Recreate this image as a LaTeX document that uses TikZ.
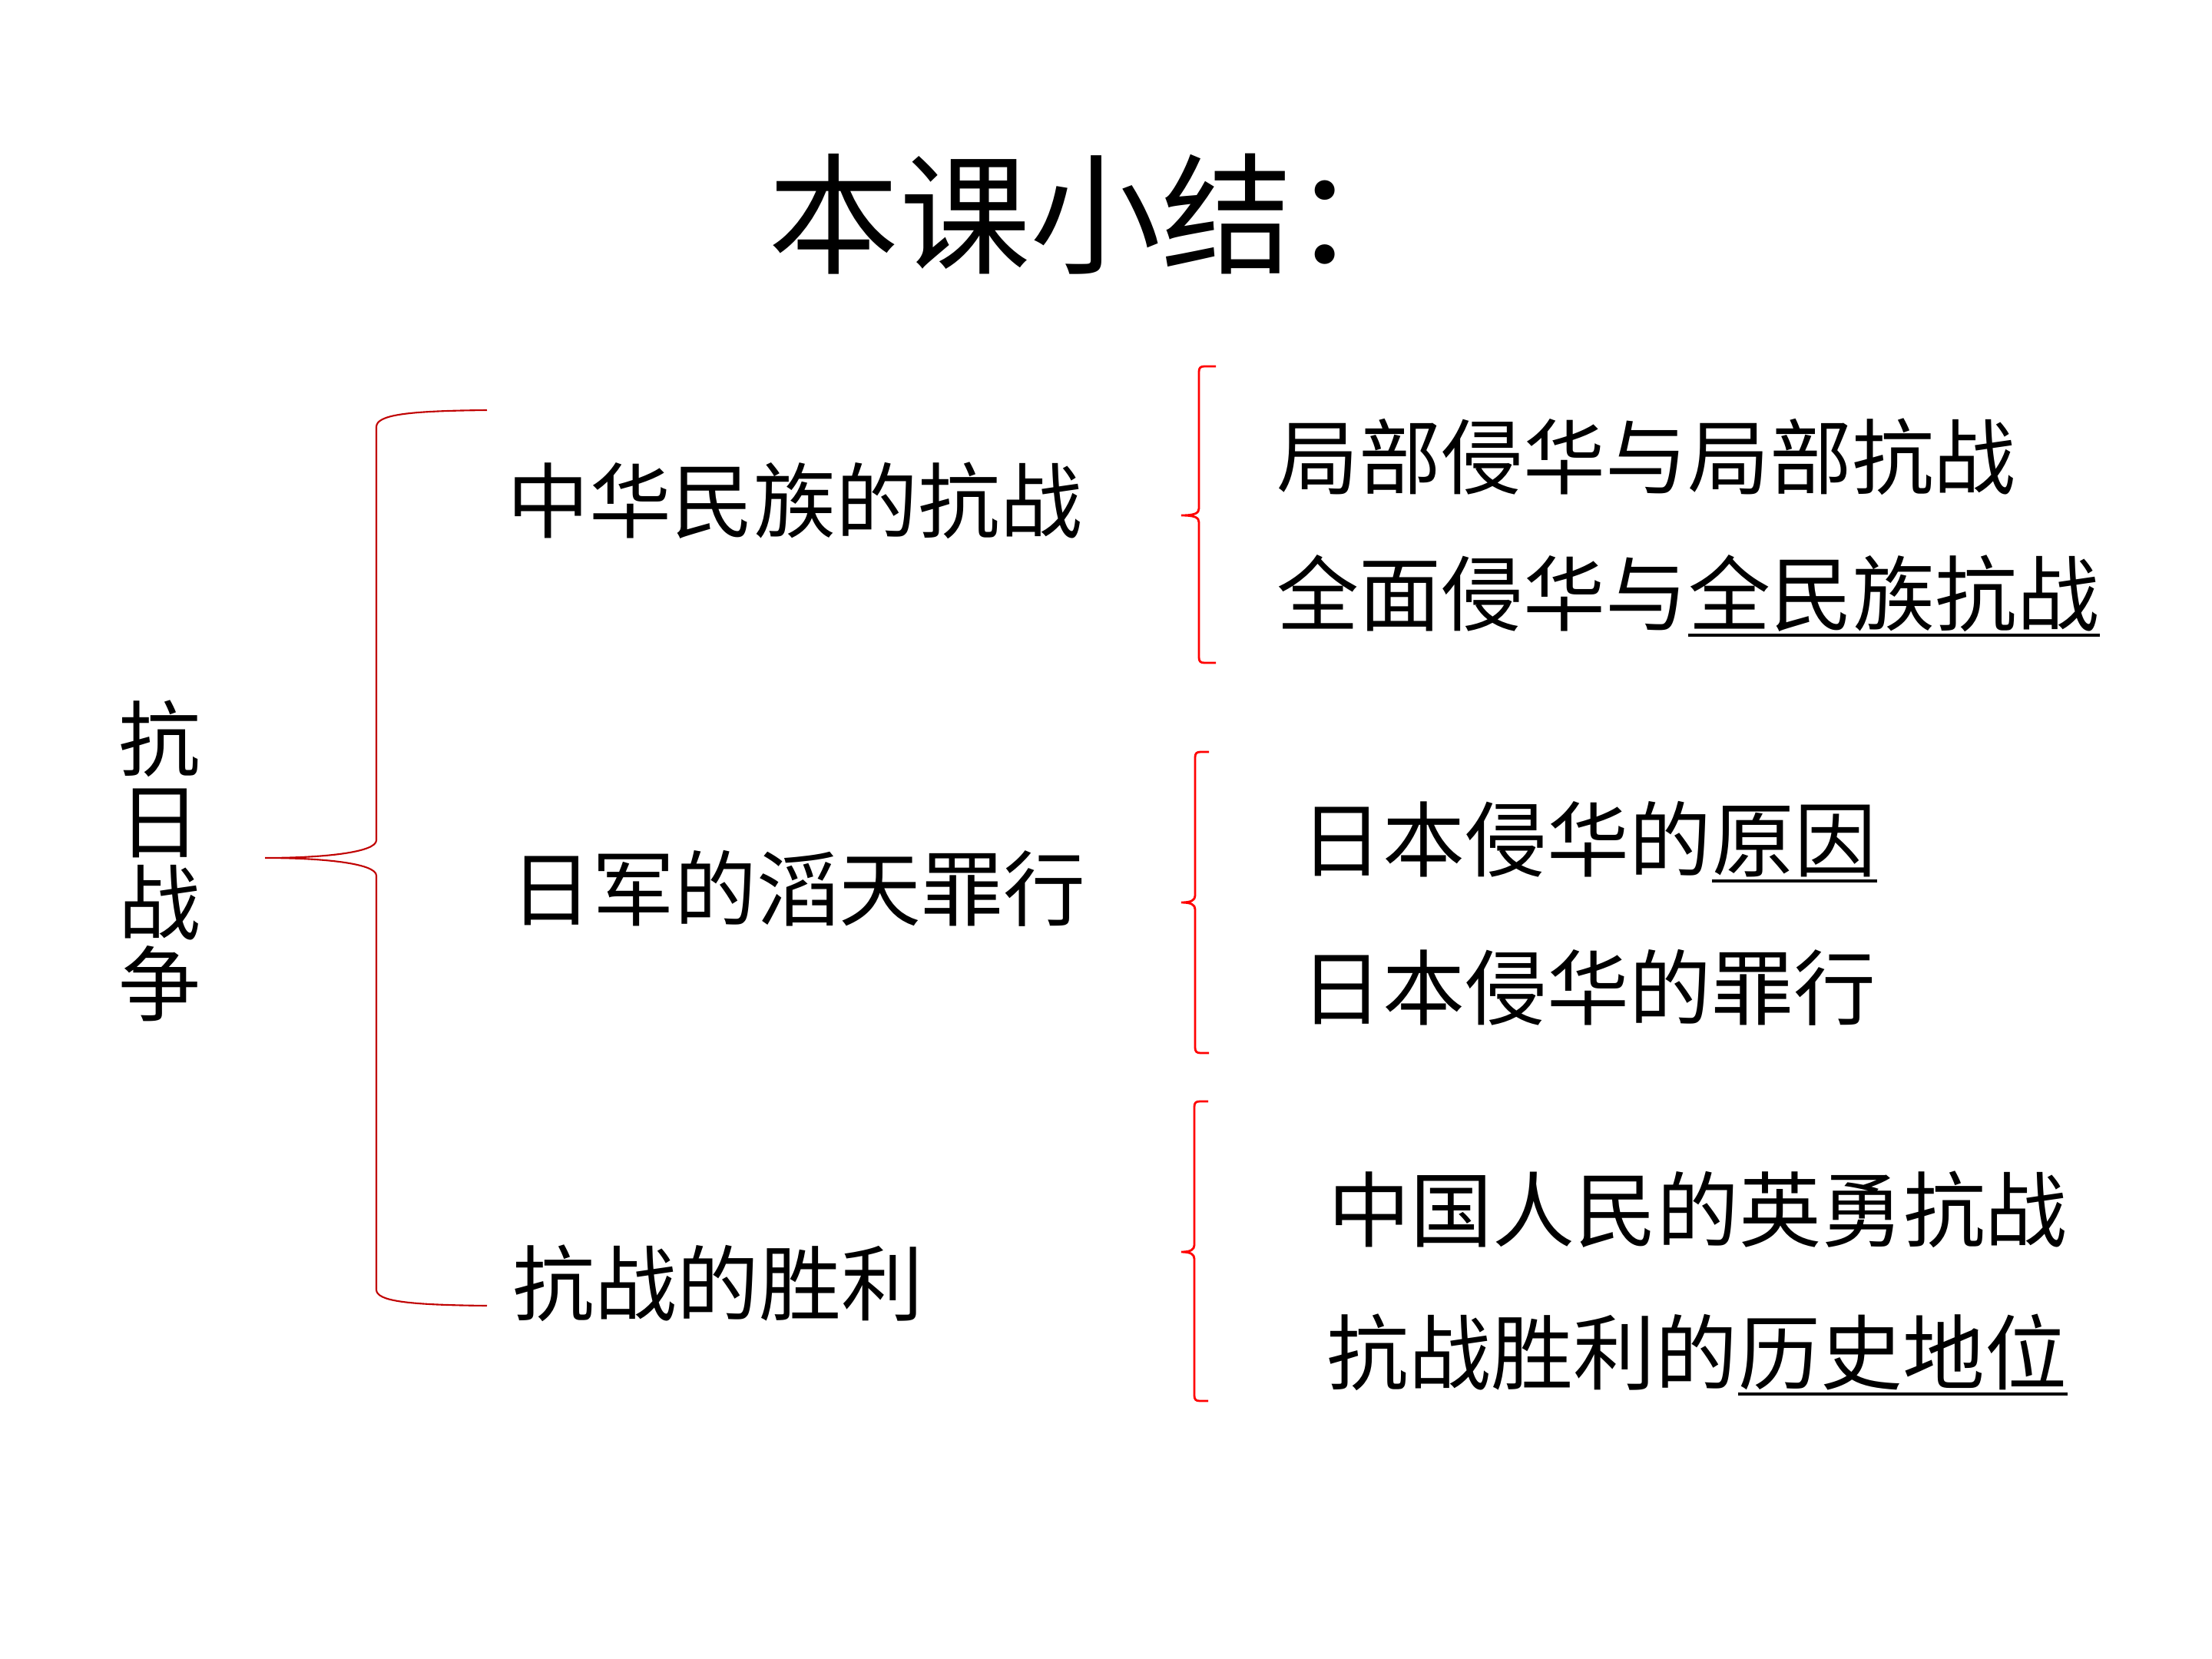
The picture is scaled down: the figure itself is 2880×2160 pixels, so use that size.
\documentclass[tikz,border=0pt]{standalone}
\usepackage{fontspec}
\setmainfont{Noto Sans CJK SC}
\definecolor{bigred}{RGB}{192,0,0}
\definecolor{smallred}{RGB}{255,0,0}
\begin{document}
\begin{tikzpicture}[x=0.01cm,y=-0.01cm,
  txt/.style={inner sep=0pt, anchor=west, font=\fontsize{30.4}{30.4}\selectfont, text height=26.75pt, text depth=3.65pt},
  titletxt/.style={inner sep=0pt, anchor=west, font=\fontsize{48.5}{48.5}\selectfont, text height=42.7pt, text depth=5.8pt},
  verttxt/.style={inner sep=0pt, align=center, font=\fontsize{30.4}{30.2}\selectfont},
  bigbrace/.style={draw=bigred, line width=0.6pt},
  smallbrace/.style={draw=smallred, line width=0.8pt},
  uline/.style={draw=black, line width=1pt}]
\useasboundingbox (0,0) rectangle (2880,2160);

% title
\node[titletxt] (title) at (1000,279) {本课小结：};

% left vertical label
\node[verttxt] (war) at (208,1121) {抗\\日\\战\\争};

% middle items
\node[txt] (m1) at (660,652) {中华民族的抗战};
\node[txt] (m2) at (664,1157) {日军的滔天罪行};
\node[txt] (m3) at (667,1671) {抗战的胜利};

% right items
\node[txt] (r1) at (1662,595) {局部侵华与局部抗战};
\node[txt] (r2a) at (1662,773) {全面侵华与};
\node[txt] (r2b) at (r2a.east) {全民族抗战};
\draw[uline] (r2b.south west) -- (r2b.south east);

\node[txt] (r3a) at (1693,1093) {日本侵华的};
\node[txt] (r3b) at (r3a.east) {原因};
\draw[uline] (r3b.south west) -- (r3b.south east);
\node[txt] (r4) at (1693,1286) {日本侵华的罪行};

\node[txt] (r5) at (1729,1575) {中国人民的英勇抗战};
\node[txt] (r6a) at (1727,1761) {抗战胜利的};
\node[txt] (r6b) at (r6a.east) {历史地位};
\draw[uline] (r6b.south west) -- (r6b.south east);

% big brace
\coordinate (bt) at (634,534);
\coordinate (bm) at (345,1117);
\coordinate (bb) at (634,1700);
\draw[bigbrace] (bt) .. controls (530,535) and (490,540) .. (490,556)
  -- (490,1094) .. controls (490,1110) and (420,1117) .. (bm)
  .. controls (420,1117) and (490,1124) .. (490,1140)
  -- (490,1679) .. controls (490,1694) and (530,1699) .. (bb);

% small brace 1
\coordinate (s1t) at (1583,477);
\coordinate (s1m) at (1538,671);
\coordinate (s1b) at (1583,863);
\draw[smallbrace] (s1t) -- (1568,477) .. controls (1563,477) and (1561,479) .. (1561,484)
  -- (1561,662) .. controls (1561,668) and (1556,671) .. (s1m)
  .. controls (1556,671) and (1561,674) .. (1561,680)
  -- (1561,856) .. controls (1561,861) and (1563,863) .. (1568,863) -- (s1b);

% small brace 2
\coordinate (s2t) at (1574,979);
\coordinate (s2m) at (1538,1175);
\coordinate (s2b) at (1574,1371);
\draw[smallbrace] (s2t) -- (1563,979) .. controls (1558,979) and (1556,981) .. (1556,986)
  -- (1556,1166) .. controls (1556,1172) and (1551,1175) .. (s2m)
  .. controls (1551,1175) and (1556,1178) .. (1556,1184)
  -- (1556,1364) .. controls (1556,1369) and (1558,1371) .. (1563,1371) -- (s2b);

% small brace 3
\coordinate (s3t) at (1573,1434);
\coordinate (s3m) at (1538,1630);
\coordinate (s3b) at (1573,1824);
\draw[smallbrace] (s3t) -- (1562,1434) .. controls (1557,1434) and (1555,1436) .. (1555,1441)
  -- (1555,1621) .. controls (1555,1627) and (1550,1630) .. (s3m)
  .. controls (1550,1630) and (1555,1633) .. (1555,1639)
  -- (1555,1817) .. controls (1555,1822) and (1557,1824) .. (1562,1824) -- (s3b);
\end{tikzpicture}
\end{document}
